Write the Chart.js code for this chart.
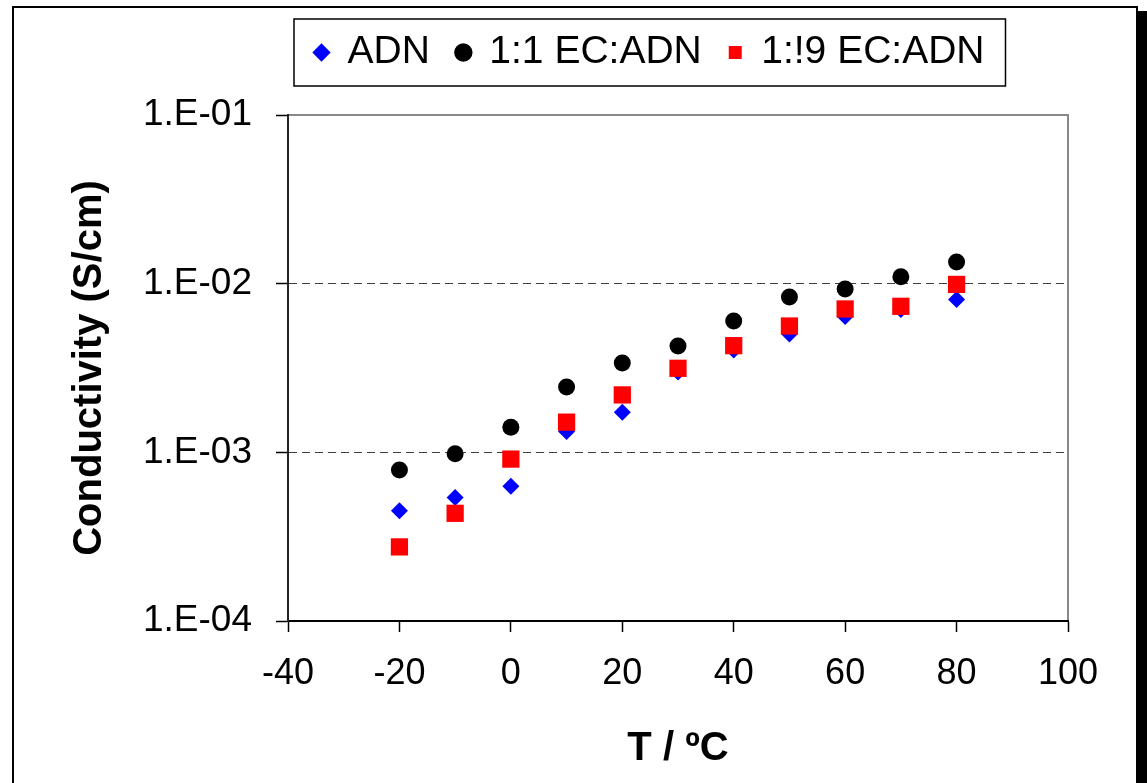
<!DOCTYPE html>
<html>
<head>
<meta charset="utf-8">
<title>Conductivity vs temperature</title>
<script src="https://cdn.jsdelivr.net/npm/chart.js@4.4.1/dist/chart.umd.min.js"></script>
<style>
  html, body { margin: 0; padding: 0; overflow: hidden; background: #fff; }
  #frame {
    position: absolute; left: 12px; top: 6px; width: 1122px; height: 820px;
    border: 2px solid #000; box-shadow: 10px 5px 0 #000;
  }
  #wrap { position: absolute; left: 0; top: 0; width: 1147px; height: 783px; }
</style>
</head>
<body>
<div id="frame"></div>
<div id="wrap"><canvas id="graficoCondutividade"></canvas></div>
<script>
// temperatura (ºC) e condutividade (S/cm) de cada eletrólito
var temps = [-20, -10, 0, 10, 20, 30, 40, 50, 60, 70, 80];
var adn  = [4.5e-4, 5.4e-4, 6.3e-4, 1.33e-3, 1.73e-3, 2.99e-3, 4.04e-3, 5.03e-3, 6.38e-3, 7.03e-3, 8.05e-3];
var ec11 = [7.85e-4, 9.8e-4, 1.41e-3, 2.44e-3, 3.39e-3, 4.27e-3, 6.0e-3, 8.34e-3, 9.3e-3, 1.1e-2, 1.345e-2];
var ec19 = [2.75e-4, 4.35e-4, 9.12e-4, 1.51e-3, 2.19e-3, 3.15e-3, 4.29e-3, 5.61e-3, 7.08e-3, 7.34e-3, 9.9e-3];

var yTickValues = [1e-4, 1e-3, 1e-2, 1e-1];
var yTickLabels = ["1.E-04", "1.E-03", "1.E-02", "1.E-01"];

Chart.defaults.font.family = "'Liberation Sans', Arial, sans-serif";
Chart.defaults.color = "#000";

function pontos(valores) {
  return temps.map(function (t, i) {
    return { x: t, y: valores[i] };
  });
}

// moldura da área do gráfico, caixa da legenda e espaço abaixo dela
var molduras = {
  id: "molduras",
  afterInit: function (chart) {
    var lg = chart.legend;
    var fitOriginal = lg.fit;
    lg.fit = function () {
      fitOriginal.call(this);
      this.height += 33;
    };
  },
  beforeDraw: function (chart) {
    var a = chart.chartArea, c = chart.ctx;
    c.save();
    c.strokeStyle = "#888";
    c.lineWidth = 2;
    c.strokeRect(a.left, a.top, a.width, a.height);
    c.restore();
  },
  afterDraw: function (chart) {
    var hb = chart.legend.legendHitBoxes;
    if (!hb || !hb.length) return;
    var first = hb[0], last = hb[hb.length - 1];
    var c = chart.ctx;
    var x0 = first.left - 21, x1 = last.left + last.width + 21;
    var y0 = first.top - 14, y1 = first.top + first.height + 14;
    c.save();
    c.strokeStyle = "#000";
    c.lineWidth = 1.5;
    c.strokeRect(x0, y0, x1 - x0, y1 - y0);
    c.restore();
  }
};

var el = document.getElementById("graficoCondutividade");
new Chart(el, {
  type: "scatter",
  data: {
    datasets: [
      {
        label: "ADN",
        data: pontos(adn),
        pointStyle: "rectRot",
        pointRadius: 8.5,
        backgroundColor: "#0000ff",
        borderColor: "#0000ff",
        borderWidth: 0,
        order: 2
      },
      {
        label: "1:1 EC:ADN",
        data: pontos(ec11),
        pointStyle: "circle",
        pointRadius: 8.5,
        backgroundColor: "#000",
        borderColor: "#000",
        borderWidth: 0,
        order: 1
      },
      {
        label: "1:!9 EC:ADN",
        data: pontos(ec19),
        pointStyle: "rect",
        pointRadius: 12.2,
        backgroundColor: "#ff0000",
        borderColor: "#ff0000",
        borderWidth: 0,
        order: 0
      }
    ]
  },
  plugins: [molduras],
  options: {
    responsive: true,
    maintainAspectRatio: false,
    animation: false,
    events: [],
    layout: { padding: { left: 58, right: 79, top: 6, bottom: 0 } },
    plugins: {
      tooltip: { enabled: false },
      legend: {
        position: "top",
        align: "start",
        fullSize: false,
        labels: {
          usePointStyle: true,
          boxWidth: 13,
          boxHeight: 13,
          padding: 27,
          color: "#000",
          font: { size: 39 },
          sort: function (a, b) { return a.datasetIndex - b.datasetIndex; }
        }
      }
    },
    scales: {
      x: {
        type: "linear",
        min: -40,
        max: 100,
        ticks: { stepSize: 20, padding: 20, maxRotation: 0, font: { size: 36 } },
        grid: { drawOnChartArea: false, tickLength: 11, tickColor: "#000", tickWidth: 1.5 },
        border: { color: "#000", width: 2 },
        title: {
          display: true,
          text: "T / ºC",
          font: { size: 40, weight: "bold" },
          padding: { top: 0, bottom: 10 }
        },
        afterFit: function (s) { s.height = 162; }
      },
      y: {
        type: "logarithmic",
        min: 1e-4,
        max: 1e-1,
        afterBuildTicks: function (s) {
          s.ticks = yTickValues.map(function (v) { return { value: v }; });
        },
        ticks: {
          padding: 24,
          font: { size: 37 },
          callback: function (v, i) { return yTickLabels[i]; }
        },
        grid: {
          color: function (ctx) {
            return (ctx.index === 0 || ctx.index === yTickValues.length - 1) ? "rgba(0,0,0,0)" : "#404040";
          },
          tickColor: "#000",
          tickLength: 12,
          tickWidth: 1.5,
          tickBorderDash: []
        },
        border: { color: "#222", width: 2, dash: [8, 5] },
        title: {
          display: true,
          text: "Conductivity (S/cm)",
          font: { size: 40, weight: "bold" },
          padding: { top: 8, bottom: 0 }
        },
        afterFit: function (s) { s.width = 230; }
      }
    }
  }
});
</script>
</body>
</html>
